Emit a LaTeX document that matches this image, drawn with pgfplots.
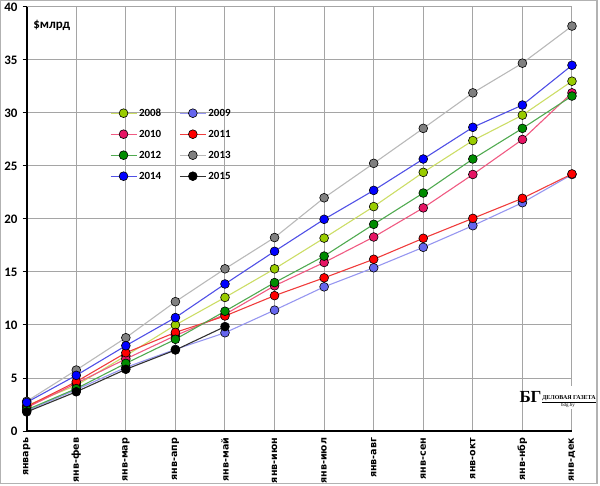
\documentclass[border=0pt]{standalone}
\usepackage{fontspec}
\setmainfont{Carlito}
\newfontfamily\tickfont{DejaVu Sans}
\newfontfamily\logofont{Liberation Serif}
\usepackage{pgfplots}
\pgfplotsset{compat=1.18}
\definecolor{c08m}{RGB}{153,204,0}\definecolor{c08l}{RGB}{204,221,102}
\definecolor{c09m}{RGB}{102,102,238}\definecolor{c09l}{RGB}{150,150,240}
\definecolor{c10m}{RGB}{230,20,100}\definecolor{c10l}{RGB}{240,90,130}
\definecolor{c11m}{RGB}{255,0,0}\definecolor{c11l}{RGB}{240,60,60}
\definecolor{c12m}{RGB}{0,140,0}\definecolor{c12l}{RGB}{80,170,80}
\definecolor{c13m}{RGB}{128,128,128}\definecolor{c13l}{RGB}{185,185,185}
\definecolor{c14m}{RGB}{0,0,255}\definecolor{c14l}{RGB}{80,80,230}
\definecolor{c15m}{RGB}{0,0,0}\definecolor{c15l}{RGB}{50,50,50}
\definecolor{gridc}{RGB}{165,165,165}
\pgfplotsset{
  ser/.style n args={2}{color=#2, line width=1.1bp, mark=*, mark size=4.4bp,
    mark options={fill=#1, draw=black, line width=0.6bp}},
}
\begin{document}
\begin{tikzpicture}
\begin{axis}[
  x=49.57bp, y=10.6bp,
  xmin=0, xmax=11, ymin=0, ymax=40,
  axis lines=left, axis line style={-, black, line width=2bp},
  clip=false,
  grid=major, major grid style={draw=gridc, line width=1bp},
  xtick={0,...,11},
  xticklabels={январь,янв-фев,янв-мар,янв-апр,янв-май,янв-июн,янв-июл,янв-авг,янв-сен,янв-окт,янв-нбр,янв-дек},
  ytick={0,5,...,40},
  tick align=outside, major tick length=4bp,
  xtick style={draw=none}, ytick style={black, line width=1bp},
  xticklabel style={rotate=90, anchor=east, inner sep=2.5bp, font=\tickfont\bfseries\fontsize{9.6}{10}\selectfont},
  yticklabel style={font=\bfseries\fontsize{13}{13}\selectfont, inner sep=5bp},
  /pgf/number format/assume math mode=true,
  legend columns=2,
  legend cell align=left,
  legend style={at={(axis cs:1.68,30.5)}, anchor=north west, draw=none, fill=none,
    inner sep=0pt, outer sep=0pt, font=\bfseries\fontsize{11}{11}\selectfont,
    row sep=10bp, nodes={inner sep=2bp, text height=7bp, text depth=0pt},
    /tikz/every even column/.append style={column sep=16bp}},
  legend image code/.code={\draw[mark repeat=2,mark phase=2,#1] plot coordinates {(0bp,0bp) (13bp,0bp) (26bp,0bp)};},
]
\addplot[ser={c08m}{c08l}] coordinates {(0,2.4)(1,4.3)(2,7.1)(3,10.0)(4,12.6)(5,15.3)(6,18.2)(7,21.17)(8,24.4)(9,27.4)(10,29.8)(11,33.0)};
\addplot[ser={c09m}{c09l}] coordinates {(0,1.9)(1,3.9)(2,6.0)(3,7.7)(4,9.27)(5,11.4)(6,13.6)(7,15.4)(8,17.33)(9,19.37)(10,21.54)(11,24.2)};
\addplot[ser={c10m}{c10l}] coordinates {(0,2.2)(1,4.5)(2,6.8)(3,9.0)(4,11.0)(5,13.7)(6,15.9)(7,18.3)(8,21.05)(9,24.2)(10,27.5)(11,31.9)};
\addplot[ser={c11m}{c11l}] coordinates {(0,2.3)(1,4.65)(2,7.38)(3,9.3)(4,10.85)(5,12.77)(6,14.45)(7,16.2)(8,18.18)(9,20.06)(10,21.95)(11,24.25)};
\addplot[ser={c12m}{c12l}] coordinates {(0,2.0)(1,4.0)(2,6.38)(3,8.65)(4,11.3)(5,14.0)(6,16.5)(7,19.5)(8,22.45)(9,25.66)(10,28.55)(11,31.6)};
\addplot[ser={c13m}{c13l}] coordinates {(0,2.8)(1,5.75)(2,8.8)(3,12.2)(4,15.3)(5,18.25)(6,22.0)(7,25.25)(8,28.55)(9,31.9)(10,34.7)(11,38.2)};
\addplot[ser={c14m}{c14l}] coordinates {(0,2.7)(1,5.25)(2,8.05)(3,10.7)(4,13.87)(5,16.95)(6,19.97)(7,22.7)(8,25.66)(9,28.65)(10,30.75)(11,34.5)};
\addplot[ser={c15m}{c15l}] coordinates {(0,1.8)(1,3.7)(2,5.82)(3,7.64)(4,9.85)};
\legend{2008,2009,2010,2011,2012,2013,2014,2015}
\node[anchor=west, font=\bfseries\fontsize{13}{13}\selectfont, inner sep=0pt] at (axis cs:0.13,38.3) {\$млрд};
\end{axis}
\fill[white] (496.3bp,22bp) rectangle (570.3bp,45bp);
\node[font=\logofont\bfseries\fontsize{17}{17}\selectfont, inner sep=0pt] at (503.8bp,34.5bp) {БГ};
\node[font=\logofont\bfseries\fontsize{6}{6}\selectfont, inner sep=0pt] at (542.3bp,32bp) {\underline{ДЕЛОВАЯ ГАЗЕТА}};
\node[font=\logofont\fontsize{5}{5}\selectfont, inner sep=0pt] at (541.3bp,26bp) {bdg.by};
\draw[gray!60, line width=1.2bp] (-26bp,-52.5bp) rectangle (570.3bp,430.3bp);
\pgfresetboundingbox
\path (-26.7bp,-55bp) rectangle (573.3bp,431bp);
\end{tikzpicture}
\end{document}
